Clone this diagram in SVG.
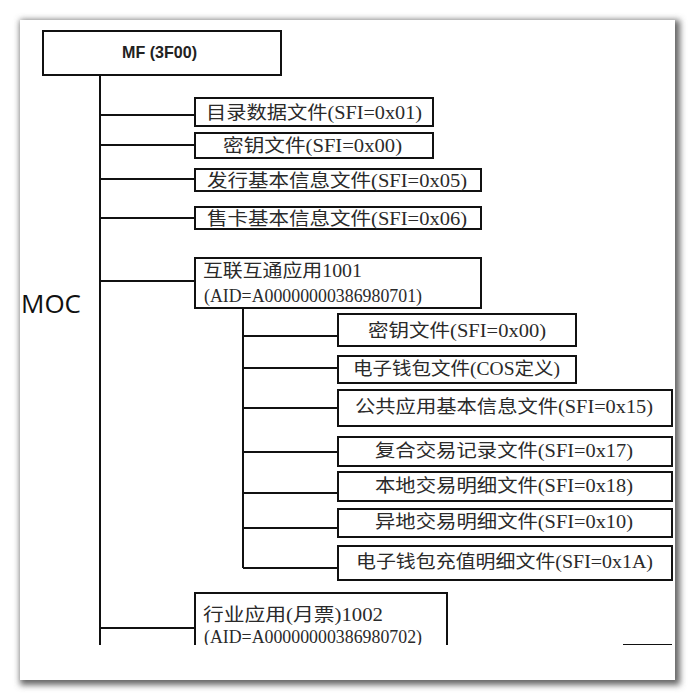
<svg xmlns="http://www.w3.org/2000/svg" width="695" height="700" viewBox="0 0 695 700">
<defs>
<filter id="sh" x="-10%" y="-10%" width="120%" height="120%"><feGaussianBlur stdDeviation="3"/></filter>
<clipPath id="cut"><rect x="0" y="0" width="695" height="645"/></clipPath>
</defs>
<style>
.box{fill:#fff;stroke:#111;stroke-width:2}
.ln{stroke:#111;stroke-width:2;fill:none}
.t{font-family:"Liberation Serif","Noto Sans CJK SC",serif;font-size:18px;fill:#2a2a2a}
.mf{font-family:"Liberation Sans","DejaVu Sans",sans-serif;font-size:17px;font-weight:bold;fill:#222}
.moc{font-family:"Open Sans","Liberation Sans",sans-serif;font-size:25px;fill:#111}
</style>
<rect x="0" y="0" width="695" height="700" fill="#fff"/>
<rect x="20" y="20" width="660" height="665" fill="#666" filter="url(#sh)"/>
<rect x="20" y="20" width="655" height="660" fill="#fff"/>
<text class="moc" x="21" y="313" textLength="60" lengthAdjust="spacingAndGlyphs">MOC</text>
<g id="connectors" clip-path="url(#cut)">
<line class="ln" x1="100" y1="75" x2="100" y2="645"/>
<line class="ln" x1="100" y1="115" x2="195" y2="115"/>
<line class="ln" x1="100" y1="145" x2="195" y2="145"/>
<line class="ln" x1="100" y1="179" x2="195" y2="179"/>
<line class="ln" x1="100" y1="218" x2="195" y2="218"/>
<line class="ln" x1="100" y1="281" x2="195" y2="281"/>
<line class="ln" x1="100" y1="628" x2="195" y2="628"/>
<line class="ln" x1="243" y1="308" x2="243" y2="568"/>
<line class="ln" x1="243" y1="336" x2="338" y2="336"/>
<line class="ln" x1="243" y1="368" x2="338" y2="368"/>
<line class="ln" x1="243" y1="408" x2="338" y2="408"/>
<line class="ln" x1="243" y1="452" x2="338" y2="452"/>
<line class="ln" x1="243" y1="493" x2="338" y2="493"/>
<line class="ln" x1="243" y1="528" x2="338" y2="528"/>
<line class="ln" x1="243" y1="568" x2="338" y2="568"/>
<line class="ln" x1="623" y1="645" x2="672" y2="645"/>
</g>
<g id="mf"><rect class="box" x="43" y="31" width="238" height="44"/><text class="mf" x="122" y="58" textLength="75" lengthAdjust="spacingAndGlyphs">MF (3F00)</text></g>
<g id="n1"><rect class="box" x="195" y="98" width="238" height="28"/><text class="t" x="206" y="119" textLength="216" lengthAdjust="spacingAndGlyphs">目录数据文件(SFI=0x01)</text></g>
<g id="n2"><rect class="box" x="195" y="133" width="238" height="25"/><text class="t" x="223" y="152" textLength="179" lengthAdjust="spacingAndGlyphs">密钥文件(SFI=0x00)</text></g>
<g id="n3"><rect class="box" x="195" y="169" width="286" height="22"/><text class="t" x="207" y="187" textLength="260" lengthAdjust="spacingAndGlyphs">发行基本信息文件(SFI=0x05)</text></g>
<g id="n4"><rect class="box" x="195" y="207" width="286" height="22"/><text class="t" x="207" y="225" textLength="260" lengthAdjust="spacingAndGlyphs">售卡基本信息文件(SFI=0x06)</text></g>
<g id="n5"><rect class="box" x="195" y="258" width="286" height="50"/><text class="t" x="203" y="277" textLength="159" lengthAdjust="spacingAndGlyphs">互联互通应用1001</text><text class="t" x="204" y="302" textLength="218" lengthAdjust="spacingAndGlyphs">(AID=A00000000386980701)</text></g>
<g id="s1"><rect class="box" x="338" y="314" width="238" height="32"/><text class="t" x="368" y="337" textLength="178" lengthAdjust="spacingAndGlyphs">密钥文件(SFI=0x00)</text></g>
<g id="s2"><rect class="box" x="338" y="356" width="238" height="27"/><text class="t" x="353" y="375" textLength="207" lengthAdjust="spacingAndGlyphs">电子钱包文件(COS定义)</text></g>
<g id="s3"><rect class="box" x="338" y="390" width="334" height="36"/><text class="t" x="355" y="413" textLength="298" lengthAdjust="spacingAndGlyphs">公共应用基本信息文件(SFI=0x15)</text></g>
<g id="s4"><rect class="box" x="338" y="437" width="334" height="29"/><text class="t" x="375" y="457" textLength="258" lengthAdjust="spacingAndGlyphs">复合交易记录文件(SFI=0x17)</text></g>
<g id="s5"><rect class="box" x="338" y="472" width="334" height="29"/><text class="t" x="375" y="492" textLength="258" lengthAdjust="spacingAndGlyphs">本地交易明细文件(SFI=0x18)</text></g>
<g id="s6"><rect class="box" x="338" y="509" width="334" height="28"/><text class="t" x="375" y="528" textLength="258" lengthAdjust="spacingAndGlyphs">异地交易明细文件(SFI=0x10)</text></g>
<g id="s7"><rect class="box" x="338" y="546" width="334" height="34"/><text class="t" x="356" y="568" textLength="297" lengthAdjust="spacingAndGlyphs">电子钱包充值明细文件(SFI=0x1A)</text></g>
<g id="n6" clip-path="url(#cut)"><rect class="box" x="195" y="593" width="252" height="70"/><text class="t" x="203" y="621" textLength="180" lengthAdjust="spacingAndGlyphs">行业应用(月票)1002</text><text class="t" x="204" y="643" textLength="218" lengthAdjust="spacingAndGlyphs">(AID=A00000000386980702)</text></g>
</svg>
